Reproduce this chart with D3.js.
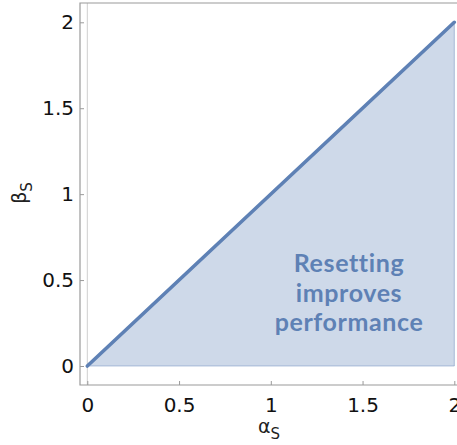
<!DOCTYPE html>
<html><head><meta charset="utf-8">
<script src="https://cdn.jsdelivr.net/npm/d3@7"></script>
<style>html,body{margin:0;padding:0;background:#fff;overflow:hidden}</style>
</head><body>
<script>
// data
const boundaryX = [0, 2];          // line beta = alpha
const boundaryY = [0, 2];
const regionX = [0, 2, 2];         // shaded region below the line
const regionY = [0, 2, 0];
const xTicks = [0, 0.5, 1, 1.5, 2];
const yTicks = [0, 0.5, 1, 1.5, 2];
const xTickLabels = ["0", "0.5", "1", "1.5", "2"];
const yTickLabels = ["0", "0.5", "1", "1.5", "2"];
const annotationLines = ["Resetting", "improves", "performance"];

const W = 457, H = 445;
const col = "#5E81B5";
const svg = d3.select("body").append("svg").attr("width", W).attr("height", H);

const x = d3.scaleLinear().domain([0, 2]).range([87.3, 454.3]);
const y = d3.scaleLinear().domain([0, 2]).range([366, 22.3]);
const fx0 = 80, fx1 = 462, fy0 = 385, fy1 = 3;

// shaded region
const pts = regionX.map((v, i) => [x(v), y(regionY[i])]);
svg.append("path")
  .attr("d", d3.line()(pts) + "Z")
  .attr("fill", col).attr("fill-opacity", 0.3)
  .attr("stroke", col).attr("stroke-opacity", 0.45).attr("stroke-width", 1);

// zero axis line (vertical)
svg.append("line").attr("x1", x(0)).attr("x2", x(0)).attr("y1", fy1).attr("y2", fy0)
  .attr("stroke", "#cfcfcf").attr("stroke-width", 1);

// boundary line
svg.append("path")
  .attr("d", d3.line()(boundaryX.map((v, i) => [x(v), y(boundaryY[i])])))
  .attr("fill", "none").attr("stroke", col).attr("stroke-width", 3.6)
  .attr("stroke-linecap", "round");

// annotation
const ann = svg.append("text").attr("text-anchor", "middle")
  .attr("font-family", "Lato").attr("font-weight", "bold").attr("font-size", 25)
  .attr("letter-spacing", 0.6)
  .attr("fill", col);
const baselines = [272, 301.5, 331];
annotationLines.forEach((t, i) => ann.append("tspan").attr("x", 349).attr("y", baselines[i]).text(t));

// frame
svg.append("path")
  .attr("d", `M${fx1},${fy1}H${fx0}V${fy0}H${fx1}`)
  .attr("fill", "none").attr("stroke", "#9a9a9a").attr("stroke-width", 1.2);

// axes
const xAxis = svg.append("g").attr("transform", `translate(0,${fy0})`)
  .call(d3.axisBottom(x).tickValues(xTicks).tickFormat((d, i) => xTickLabels[i]).tickSize(-4).tickPadding(13));
const yAxis = svg.append("g").attr("transform", `translate(${fx0},0)`)
  .call(d3.axisLeft(y).tickValues(yTicks).tickFormat((d, i) => yTickLabels[i]).tickSize(-4).tickPadding(6));
[xAxis, yAxis].forEach(g => {
  g.select(".domain").remove();
  g.selectAll(".tick line").attr("stroke", "#9a9a9a").attr("stroke-width", 1);
  g.selectAll(".tick text").attr("font-family", "DejaVu Sans").attr("font-size", 20).attr("fill", "#111");
});

// axis labels
const xl = svg.append("text").attr("x", 269).attr("y", 433).attr("text-anchor", "middle")
  .attr("font-family", "DejaVu Sans").attr("font-size", 19).attr("fill", "#222");
xl.append("tspan").text("α");
xl.append("tspan").attr("font-size", 15).attr("dy", 6).text("S");

const yl = svg.append("text").attr("transform", "translate(26,193) rotate(-90)").attr("text-anchor", "middle")
  .attr("font-family", "DejaVu Sans").attr("font-size", 19).attr("fill", "#222");
yl.append("tspan").text("β");
yl.append("tspan").attr("font-size", 15).attr("dy", 6).text("S");
</script>
</body></html>
